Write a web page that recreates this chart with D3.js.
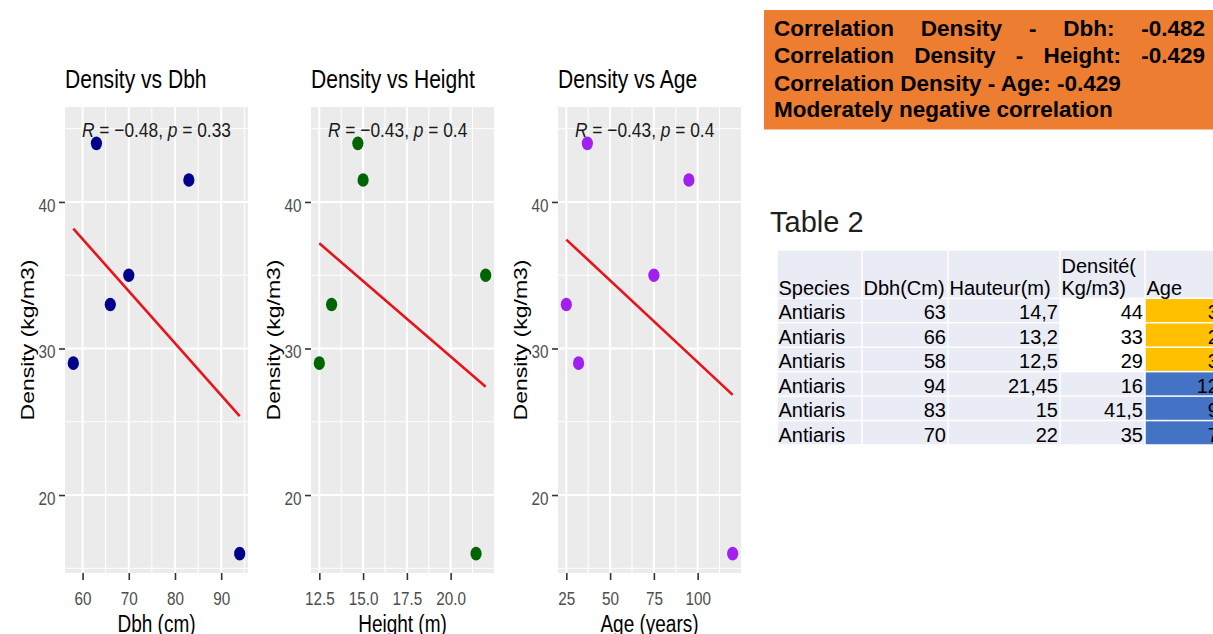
<!DOCTYPE html>
<html><head><meta charset="utf-8">
<script src="https://cdn.jsdelivr.net/npm/d3@7"></script>
<style>
body{margin:0;background:#fff;overflow:hidden;}
svg{display:block;font-family:"Liberation Sans",Arial,Helvetica,sans-serif;}
</style>
</head><body>
<svg id="c" width="1213" height="634"></svg>
<script>
// ---------------- data ----------------
const species = ["Antiaris","Antiaris","Antiaris","Antiaris","Antiaris","Antiaris"];
const dbh     = [63, 66, 58, 94, 83, 70];
const height  = [14.7, 13.2, 12.5, 21.45, 15, 22];
const density = [44, 33, 29, 16, 41.5, 35];
const age     = [37, 25, 32, 120, 95, 75];

const panelTitles = ["Density vs Dbh", "Density vs Height", "Density vs Age"];
const xTitles = ["Dbh (cm)", "Height (m)", "Age (years)"];
const yTitle = "Density (kg/m3)";
const xTickValues = [[60, 70, 80, 90], [12.5, 15, 17.5, 20], [25, 50, 75, 100]];
const xTickFormats = ["d", ".1f", "d"];
const yTickValues = [20, 30, 40];
const rLabels = ["\u22120.48", "\u22120.43", "\u22120.43"];
const pLabels = ["0.33", "0.4", "0.4"];
const pointColors = ["#00008b", "#006400", "#a020f0"];

const boxLines = [
  "Correlation Density - Dbh: -0.482",
  "Correlation Density - Height: -0.429",
  "Correlation Density - Age: -0.429",
  "Moderately negative correlation"
];
const boxJustified = [true, true, false, false];

const tableTitle = "Table 2";
const tableHeaders = [["Species"], ["Dbh(Cm)"], ["Hauteur(m)"], ["Densit\u00e9(", "Kg/m3)"], ["Age"]];

// ---------------- setup ----------------
const svg = d3.select("#c");
const SX = 0.826;               // horizontal squeeze of the R graphic
const panelLeft = [65, 311, 558];
const panelW = 183;
const pTop = 107, pBottom = 573;
const y = d3.scaleLinear().domain([14.68, 46.48]).range([pBottom, pTop]);

function squeeze(sel, x, yy, rot) {
  sel.attr("transform", `translate(${x},${yy}) scale(${SX},1)` + (rot ? ` rotate(${rot})` : ""));
  return sel;
}
function minorTicks(ticks, domain) {
  const step = ticks[1] - ticks[0];
  const out = [];
  for (let v = ticks[0] - step / 2; v <= domain[1]; v += step) if (v >= domain[0]) out.push(v);
  return out;
}
function linfit(xs, ys) {
  const mx = d3.mean(xs), my = d3.mean(ys);
  const sxy = d3.sum(xs, (v, i) => (v - mx) * (ys[i] - my));
  const sxx = d3.sum(xs, v => (v - mx) * (v - mx));
  const b = sxy / sxx;
  return v => my + b * (v - mx);
}

const xSeries = [dbh, height, age];

xSeries.forEach((xs, i) => {
  const ext = d3.extent(xs);
  const pad = (ext[1] - ext[0]) * 0.05;
  const x = d3.scaleLinear().domain([ext[0] - pad, ext[1] + pad]).range([panelLeft[i], panelLeft[i] + panelW]);
  const g = svg.append("g");

  g.append("rect").attr("x", panelLeft[i]).attr("y", pTop).attr("width", panelW).attr("height", pBottom - pTop).attr("fill", "#ebebeb");

  // minor grid
  g.selectAll(".mx").data(minorTicks(xTickValues[i], x.domain())).join("line")
    .attr("x1", d => x(d)).attr("x2", d => x(d)).attr("y1", pTop).attr("y2", pBottom)
    .attr("stroke", "#fff").attr("stroke-width", 1);
  g.selectAll(".my").data(minorTicks(yTickValues, y.domain())).join("line")
    .attr("y1", d => y(d)).attr("y2", d => y(d)).attr("x1", panelLeft[i]).attr("x2", panelLeft[i] + panelW)
    .attr("stroke", "#fff").attr("stroke-width", 1);
  // major grid
  g.selectAll(".Mx").data(xTickValues[i]).join("line")
    .attr("x1", d => x(d)).attr("x2", d => x(d)).attr("y1", pTop).attr("y2", pBottom)
    .attr("stroke", "#fff").attr("stroke-width", 2);
  g.selectAll(".My").data(yTickValues).join("line")
    .attr("y1", d => y(d)).attr("y2", d => y(d)).attr("x1", panelLeft[i]).attr("x2", panelLeft[i] + panelW)
    .attr("stroke", "#fff").attr("stroke-width", 2);

  // regression line
  const f = linfit(xs, density);
  g.append("line")
    .attr("x1", x(ext[0])).attr("y1", y(f(ext[0])))
    .attr("x2", x(ext[1])).attr("y2", y(f(ext[1])))
    .attr("stroke", "#e8141c").attr("stroke-width", 2.6);

  // points
  g.selectAll(".pt").data(xs).join("ellipse")
    .attr("cx", d => x(d)).attr("cy", (d, j) => y(density[j]))
    .attr("rx", 5.6).attr("ry", 6.8).attr("fill", pointColors[i]);

  // x axis
  const xa = g.append("g").attr("transform", `translate(0,${pBottom})`)
    .call(d3.axisBottom(x).tickValues(xTickValues[i]).tickFormat(d3.format(xTickFormats[i])).tickSize(7));
  xa.select(".domain").remove();
  xa.selectAll(".tick line").attr("stroke", "#333").attr("stroke-width", 1.6);
  xa.selectAll(".tick text").attr("y", 0).attr("dy", 0)
    .attr("transform", `translate(0,32) scale(${SX},1)`)
    .attr("font-size", 18.5).attr("fill", "#4d4d4d").attr("font-family", "Liberation Sans, Arial, sans-serif");

  // y axis
  const ya = g.append("g").attr("transform", `translate(${panelLeft[i]},0)`)
    .call(d3.axisLeft(y).tickValues(yTickValues).tickSize(6));
  ya.select(".domain").remove();
  ya.selectAll(".tick line").attr("stroke", "#333").attr("stroke-width", 1.6);
  ya.selectAll(".tick text").attr("x", 0).attr("dy", 0).attr("y", 0)
    .attr("transform", `translate(-9.5,9.5) scale(${SX},1)`)
    .attr("font-size", 18.5).attr("fill", "#4d4d4d").attr("font-family", "Liberation Sans, Arial, sans-serif");

  // titles
  squeeze(g.append("text").text(panelTitles[i]).attr("font-size", 25.5).attr("fill", "#000"), panelLeft[i], 88);
  squeeze(g.append("text").text(xTitles[i]).attr("font-size", 23).attr("text-anchor", "middle").attr("fill", "#000"),
    panelLeft[i] + panelW / 2, 632);
  squeeze(g.append("text").text(yTitle).attr("font-size", 23).attr("text-anchor", "middle").attr("fill", "#000"),
    panelLeft[i] - 31, (pTop + pBottom) / 2, -90);

  // correlation label
  const t = squeeze(g.append("text").attr("font-size", 21).attr("fill", "#1a1a1a"), panelLeft[i] + 17, 137);
  t.append("tspan").attr("font-style", "italic").text("R");
  t.append("tspan").text(" = " + rLabels[i] + ", ");
  t.append("tspan").attr("font-style", "italic").text("p");
  t.append("tspan").text(" = " + pLabels[i]);
});

// ---------------- orange box ----------------
svg.append("rect").attr("x", 764).attr("y", 10).attr("width", 460).attr("height", 119.5).attr("fill", "#ed7d31");
const lineY = [36, 63.3, 90.5, 117];
const boxL = 774, boxR = 1205;
boxLines.forEach((ln, k) => {
  const words = ln.split(" ");
  const tg = svg.append("g");
  if (boxJustified[k]) {
    const nodes = words.map(w => tg.append("text").text(w).attr("font-size", 22.5).attr("font-weight", "bold").attr("fill", "#000").attr("y", lineY[k]));
    const widths = nodes.map(n => n.node().getComputedTextLength());
    const gap = (boxR - boxL - d3.sum(widths)) / (words.length - 1);
    let cx = boxL;
    nodes.forEach((n, j) => { n.attr("x", cx); cx += widths[j] + gap; });
  } else {
    tg.append("text").text(ln).attr("x", boxL).attr("y", lineY[k]).attr("font-size", 22.5).attr("font-weight", "bold").attr("fill", "#000");
  }
});

// ---------------- table ----------------
svg.append("text").text(tableTitle).attr("x", 770).attr("y", 231.5).attr("font-size", 29).attr("fill", "#1f1f1f");

const colX = [777, 862, 948, 1060, 1145, 1232];
const headTop = 250.7, headBot = 298.3, rowH = 24.45;
const fmtNum = v => String(v).replace(".", ",");
const rows = species.map((s, r) => [s, dbh[r], height[r], density[r], age[r]]);

// header
tableHeaders.forEach((h, c) => {
  svg.append("rect").attr("x", colX[c] + 0.75).attr("y", headTop).attr("width", colX[c + 1] - colX[c] - 1.5)
    .attr("height", headBot - headTop - 0.75).attr("fill", "#e9ebf5");
  h.forEach((line, li) => {
    svg.append("text").text(line).attr("x", colX[c] + 1.5)
      .attr("y", headBot - 3.3 - (h.length - 1 - li) * 22.4)
      .attr("font-size", 20).attr("fill", "#000");
  });
});
// body
rows.forEach((row, r) => {
  const y0 = headBot + r * rowH;
  row.forEach((v, c) => {
    let fill = "#e9ebf5";
    if (c === 3 && r < 3) fill = "#ffffff";
    if (c === 4) fill = age[r] < 50 ? "#ffc000" : "#4472c4";
    svg.append("rect").attr("x", colX[c] + 0.75).attr("y", y0 + 0.75).attr("width", colX[c + 1] - colX[c] - 1.5)
      .attr("height", rowH - 1.5).attr("fill", fill);
    const isNum = c > 0;
    svg.append("text").text(isNum ? fmtNum(v) : v)
      .attr("x", isNum ? colX[c + 1] - 2 : colX[c] + 1.5)
      .attr("y", y0 + rowH - 3.3)
      .attr("text-anchor", isNum ? "end" : "start")
      .attr("font-size", 20).attr("fill", "#000");
  });
});
</script>
</body></html>
